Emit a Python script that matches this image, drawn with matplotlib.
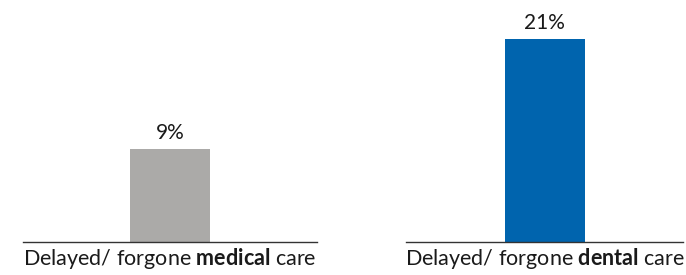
import matplotlib
matplotlib.use("Agg")
import matplotlib.pyplot as plt
from matplotlib.transforms import offset_copy

plt.rcParams['font.family'] = ['Lato', 'DejaVu Sans']
plt.rcParams['mathtext.fontset'] = 'custom'
plt.rcParams['mathtext.rm'] = 'Lato'
plt.rcParams['mathtext.bf'] = 'Lato:bold'

categories = [r'Delayed/ forgone $\mathbf{medical}$ care',
              r'Delayed/ forgone $\mathbf{dental}$ care']
values = [9, 21]
labels = ['9%', '21%']
colors = ['#ABAAA8', '#0064AE']

W, H = 686, 275
fig = plt.figure(figsize=(W / 100, H / 100), dpi=100)

spans = [(23, 317), (406, 683)]
bottom_px, top_px = 241.5, 10
bar_px = 80
bar_top_px = [149, 39]

for i, (l, r) in enumerate(spans):
    ax = fig.add_axes([l / W, 1 - bottom_px / H, (r - l) / W, (bottom_px - top_px) / H])
    width = bar_px / (r - l)
    ax.bar([0], [values[i]], width=width, color=colors[i])
    ax.set_xlim(-0.5, 0.5)
    ax.set_ylim(0, values[i] * (bottom_px - top_px) / (bottom_px - bar_top_px[i]))
    ax.text(0, values[i], labels[i], ha='center', va='bottom', fontsize=15,
            color='#1a1a1a',
            transform=offset_copy(ax.transData, fig=fig, x=0, y=4, units='points'))
    for s in ['top', 'right', 'left']:
        ax.spines[s].set_visible(False)
    ax.spines['bottom'].set_color('#333333')
    ax.spines['bottom'].set_linewidth(1.0)
    ax.set_yticks([])
    ax.set_xticks([0])
    ax.set_xticklabels([categories[i]], fontsize=15.5, color='#1a1a1a')
    ax.tick_params(axis='x', length=0, pad=3)

fig.savefig('out.png', dpi=100)
